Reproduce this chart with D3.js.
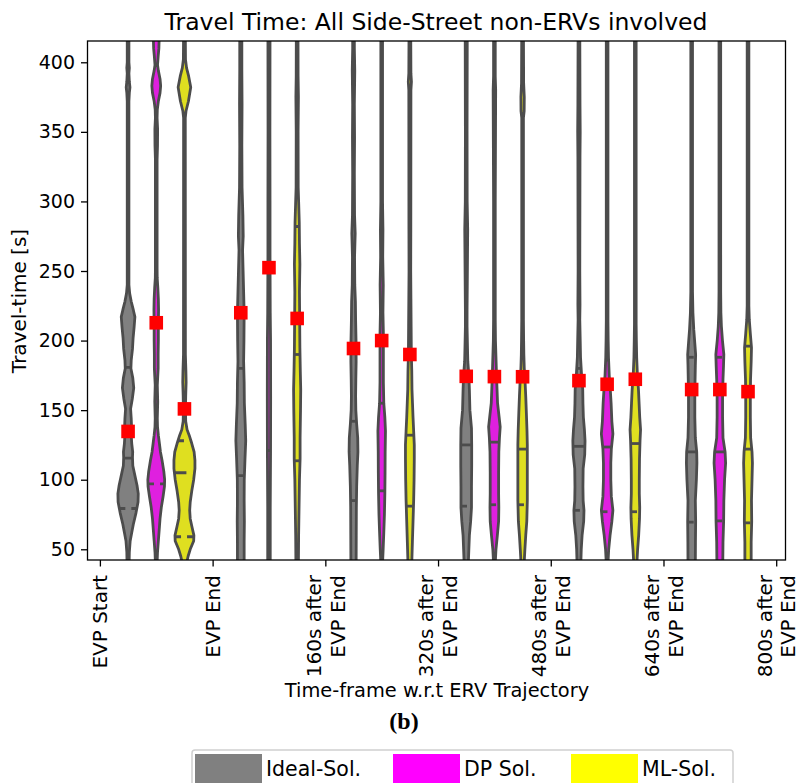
<!DOCTYPE html>
<html>
<head>
<meta charset="utf-8">
<script src="https://cdn.jsdelivr.net/npm/d3@7"></script>
<style>
body { margin: 0; background: #fff; }
svg text { font-family: 'DejaVu Sans', sans-serif; fill: #000; }
</style>
</head>
<body>
<svg></svg>
<script>
// tick labels of the time-frame axis (one tick every 4 slots)
var tickLabels = ["EVP Start", "EVP End", "160s after\nEVP End", "320s after\nEVP End",
    "480s after\nEVP End", "640s after\nEVP End", "800s after\nEVP End"];
var seriesNames = ["Ideal-Sol.", "DP Sol.", "ML-Sol."];
var legendColors = ["#808080", "#ff00ff", "#ffff00"];
var violinColors = ["#808080", "#df20df", "#dfdf20"];

// mean travel time (red squares)
var idealMeans = [134.7, 220, 194.3, 174.3, 171.2, 164.8];
var dpMeans    = [212.8, 252.4, 200, 174.1, 168.6, 164.8];
var mlMeans    = [150.9, 215.9, 190, 174, 172.2, 163.3];

// [q1, median, q3]
var idealQuartiles = [[79.3, 115.5, 180.8], [103, 180, 220], [85, 142, 195], [81, 125, 174], [78, 124, 180], [69.5, 120, 188]];
var dpQuartiles    = [[97, 140, 172], [121, 218, 395], [92, 155, 200], [82, 127, 174], [77, 123.5, 186], [70.4, 120, 188]];
var mlQuartiles    = [[59, 105, 128], [113.6, 190, 282], [81, 132, 190], [82, 122, 188], [77, 126, 189], [69, 122, 196]];

// kde profiles: [travel time, relative density]
var idealDensity = [
    [[40,0.1],[48,0.12],[56,0.2],[62,0.35],[68,0.5],[76,0.75],[84,0.95],[90,0.97],[96,0.85],[104,0.62],[110,0.45],[116,0.42],[120,0.44],[126,0.35],[132,0.3],[138,0.33],[144,0.3],[151,0.24],[158,0.4],[166,0.54],[173,0.45],[180,0.27],[186,0.3],[194,0.42],[202,0.48],[210,0.58],[217,0.65],[222,0.5],[228,0.3],[234,0.15],[240,0.08],[372,0.08],[378,0.12],[382,0.18],[386,0.12],[392,0.08],[396,0.12],[400,0.08],[425,0.08]],
    [[40,0.32],[55,0.32],[70,0.34],[85,0.32],[100,0.33],[115,0.4],[128,0.47],[140,0.42],[155,0.34],[170,0.32],[185,0.27],[200,0.3],[220,0.32],[235,0.27],[250,0.22],[265,0.17],[275,0.23],[290,0.2],[310,0.12],[340,0.1],[370,0.12],[395,0.1],[425,0.1]],
    [[40,0.25],[60,0.26],[80,0.27],[95,0.3],[110,0.36],[120,0.42],[130,0.4],[140,0.3],[150,0.22],[160,0.2],[172,0.22],[185,0.25],[200,0.24],[215,0.2],[228,0.18],[240,0.12],[260,0.1],[277,0.16],[290,0.1],[320,0.08],[346,0.1],[370,0.08],[394,0.12],[410,0.08],[425,0.08]],
    [[40,0.2],[50,0.25],[60,0.3],[70,0.42],[80,0.5],[95,0.5],[110,0.52],[125,0.52],[137,0.5],[150,0.35],[165,0.3],[175,0.25],[185,0.15],[195,0.12],[210,0.08],[222,0.08],[240,0.1],[280,0.14],[300,0.09],[350,0.08],[425,0.1]],
    [[40,0.18],[50,0.22],[60,0.3],[70,0.45],[78,0.48],[85,0.4],[95,0.38],[108,0.4],[118,0.55],[128,0.58],[136,0.52],[145,0.42],[155,0.38],[165,0.36],[175,0.25],[188,0.15],[200,0.12],[215,0.08],[226,0.1],[250,0.08],[332,0.1],[350,0.12],[370,0.1],[425,0.08]],
    [[40,0.35],[55,0.36],[70,0.38],[85,0.35],[100,0.45],[112,0.5],[120,0.48],[130,0.35],[145,0.3],[160,0.3],[170,0.32],[182,0.35],[190,0.38],[198,0.3],[208,0.2],[220,0.12],[235,0.08],[425,0.08]]
];
var dpDensity = [
    [[40,0.08],[48,0.12],[56,0.2],[64,0.28],[72,0.36],[80,0.48],[88,0.65],[95,0.78],[100,0.8],[106,0.72],[114,0.55],[120,0.4],[126,0.3],[132,0.2],[138,0.12],[144,0.1],[150,0.12],[156,0.14],[162,0.12],[168,0.1],[174,0.14],[180,0.18],[190,0.18],[200,0.2],[210,0.2],[222,0.22],[230,0.2],[238,0.15],[245,0.09],[252,0.08],[330,0.08],[340,0.12],[352,0.13],[360,0.08],[366,0.1],[372,0.2],[378,0.36],[383,0.42],[388,0.36],[394,0.2],[398,0.12],[404,0.18],[410,0.25],[418,0.28],[425,0.25]],
    [[40,0.12],[80,0.12],[120,0.15],[160,0.16],[200,0.15],[220,0.12],[260,0.1],[300,0.1],[350,0.09],[425,0.1]],
    [[40,0.08],[50,0.14],[62,0.2],[75,0.26],[90,0.3],[105,0.32],[120,0.33],[135,0.36],[145,0.3],[155,0.2],[170,0.16],[190,0.16],[205,0.16],[220,0.12],[240,0.15],[260,0.1],[280,0.12],[300,0.08],[425,0.08]],
    [[40,0.08],[50,0.15],[60,0.28],[70,0.4],[80,0.42],[90,0.4],[105,0.4],[120,0.42],[130,0.48],[138,0.55],[145,0.45],[155,0.3],[165,0.25],[175,0.2],[190,0.14],[200,0.1],[215,0.08],[300,0.08],[380,0.12],[390,0.08],[425,0.08]],
    [[40,0.08],[50,0.15],[60,0.28],[70,0.45],[78,0.55],[88,0.4],[100,0.35],[112,0.35],[122,0.4],[133,0.55],[142,0.45],[155,0.38],[165,0.3],[175,0.2],[188,0.13],[200,0.1],[214,0.08],[425,0.08]],
    [[40,0.28],[55,0.3],[70,0.36],[85,0.38],[100,0.45],[112,0.55],[120,0.5],[130,0.3],[145,0.26],[160,0.26],[172,0.3],[182,0.35],[190,0.38],[200,0.25],[210,0.15],[220,0.1],[235,0.08],[425,0.08]]
];
var mlDensity = [
    [[40,0.2],[45,0.35],[50,0.55],[56,0.88],[60,0.9],[66,0.72],[72,0.55],[78,0.5],[84,0.55],[92,0.7],[100,0.88],[108,1.0],[114,1.0],[120,0.92],[126,0.7],[132,0.45],[136,0.25],[142,0.12],[150,0.1],[160,0.12],[170,0.16],[178,0.14],[190,0.09],[360,0.08],[365,0.15],[372,0.38],[382,0.6],[390,0.4],[396,0.2],[402,0.1],[425,0.08]],
    [[40,0.12],[60,0.14],[80,0.18],[100,0.22],[115,0.28],[130,0.28],[150,0.32],[165,0.34],[178,0.3],[195,0.26],[215,0.24],[235,0.22],[255,0.26],[270,0.22],[285,0.2],[298,0.15],[310,0.1],[350,0.09],[375,0.12],[390,0.09],[425,0.08]],
    [[40,0.18],[55,0.24],[70,0.3],[85,0.36],[100,0.4],[115,0.42],[125,0.42],[135,0.36],[145,0.3],[155,0.25],[165,0.2],[178,0.18],[190,0.14],[210,0.12],[230,0.1],[250,0.08],[280,0.09],[380,0.1],[386,0.15],[392,0.1],[425,0.08]],
    [[40,0.15],[50,0.22],[60,0.3],[70,0.4],[85,0.45],[100,0.45],[115,0.45],[125,0.45],[135,0.42],[148,0.36],[160,0.3],[170,0.24],[180,0.16],[190,0.12],[200,0.1],[215,0.08],[360,0.08],[365,0.15],[375,0.16],[385,0.1],[425,0.08]],
    [[40,0.15],[50,0.22],[60,0.32],[72,0.4],[80,0.42],[90,0.38],[100,0.38],[115,0.4],[128,0.45],[136,0.5],[145,0.42],[155,0.36],[165,0.3],[175,0.2],[188,0.13],[200,0.1],[212,0.08],[425,0.08]],
    [[40,0.3],[55,0.3],[70,0.35],[85,0.33],[100,0.38],[112,0.42],[120,0.38],[130,0.25],[145,0.22],[160,0.22],[172,0.24],[185,0.3],[195,0.33],[205,0.22],[215,0.12],[225,0.08],[425,0.08]]
];

var svgWidth = 796, svgHeight = 783;
var plotLeft = 87.5, plotRight = 785.5, plotTop = 41, plotBottom = 560;
var edgeColor = "#4c4c4c", lineW = 2.8;

var svg = d3.select("svg")
    .attr("width", svgWidth)
    .attr("height", svgHeight);

// slots: tick at 0, violins at 1,2,3, tick at 4, ...
var x = d3.scaleLinear().domain([-0.44, 24.33]).range([plotLeft, plotRight]);
var y = d3.scaleLinear().domain([42.3, 415.3]).range([plotBottom, plotTop]);
var w = d3.scaleLinear().domain([0, 1]).range([0, 10.5]);

svg.append("defs").append("clipPath").attr("id", "plotclip")
    .append("rect")
    .attr("x", plotLeft).attr("y", plotTop)
    .attr("width", plotRight - plotLeft).attr("height", plotBottom - plotTop);

var series = [
    { density: idealDensity, quart: idealQuartiles, means: idealMeans },
    { density: dpDensity, quart: dpQuartiles, means: dpMeans },
    { density: mlDensity, quart: mlQuartiles, means: mlMeans }
];

var violins = [];
series.forEach(function (s, si) {
    s.density.forEach(function (prof, g) {
        violins.push({ slot: 4 * g + si + 1, prof: prof, color: violinColors[si],
            quart: s.quart[g], mean: s.means[g] });
    });
});

function densityAt(prof, v) {
    for (var i = 1; i < prof.length; i++) {
        if (v <= prof[i][0]) {
            var t = (v - prof[i - 1][0]) / (prof[i][0] - prof[i - 1][0]);
            return prof[i - 1][1] + t * (prof[i][1] - prof[i - 1][1]);
        }
    }
    return prof[prof.length - 1][1];
}

var plot = svg.append("g").attr("clip-path", "url(#plotclip)");

var area = d3.area()
    .y(function (d) { return y(d[0]); })
    .curve(d3.curveLinear);

plot.selectAll("path.violin")
    .data(violins)
    .enter()
    .append("path")
    .attr("class", "violin")
    .attr("d", function (v) {
        return area
            .x0(function (d) { return x(v.slot) - w(d[1]); })
            .x1(function (d) { return x(v.slot) + w(d[1]); })(v.prof);
    })
    .style("fill", function (v) { return v.color; })
    .style("stroke", edgeColor)
    .style("stroke-width", lineW)
    .style("stroke-linejoin", "round");

// quartile lines
violins.forEach(function (v) {
    v.quart.forEach(function (q, qi) {
        var hw = w(densityAt(v.prof, q));
        plot.append("line")
            .attr("x1", x(v.slot) - hw)
            .attr("x2", x(v.slot) + hw)
            .attr("y1", y(q))
            .attr("y2", y(q))
            .style("stroke", edgeColor)
            .style("stroke-width", lineW)
            .style("stroke-dasharray", qi === 1 ? "12,12" : "6,6");
    });
});

// means
plot.selectAll("rect.mean")
    .data(violins)
    .enter()
    .append("rect")
    .attr("class", "mean")
    .attr("x", function (v) { return x(v.slot) - 6.8; })
    .attr("y", function (v) { return y(v.mean) - 6.8; })
    .attr("width", 13.6)
    .attr("height", 13.6)
    .style("fill", "#ff0000");

// axes
var yAxis = svg.append("g")
    .attr("transform", "translate(" + plotLeft + ",0)")
    .call(d3.axisLeft(y).tickValues([50, 100, 150, 200, 250, 300, 350, 400])
        .tickSize(6.5).tickPadding(6).tickFormat(d3.format("d")));
yAxis.select(".domain").remove();
yAxis.selectAll("line").style("stroke", "#000").style("stroke-width", 1.3);
yAxis.selectAll("text").style("font-size", "19px").style("font-family", "DejaVu Sans");

var tickSlots = tickLabels.map(function (d, i) { return i * 4; });
var xAxis = svg.append("g")
    .attr("transform", "translate(0," + plotBottom + ")")
    .call(d3.axisBottom(x).tickValues(tickSlots).tickSize(6.5).tickFormat(""));
xAxis.select(".domain").remove();
xAxis.selectAll("line").style("stroke", "#000").style("stroke-width", 1.3);

tickLabels.forEach(function (lab, i) {
    var lines = lab.split("\n");
    var t = svg.append("text")
        .attr("transform", "translate(" + x(tickSlots[i]) + ",575)rotate(-90)")
        .attr("text-anchor", "end")
        .style("font-size", "20px");
    lines.forEach(function (ln, k) {
        t.append("tspan")
            .attr("x", 0)
            .attr("y", 7.3 + (k - (lines.length - 1) / 2) * 24)
            .text(ln);
    });
});

// frame
svg.append("rect")
    .attr("x", plotLeft).attr("y", plotTop)
    .attr("width", plotRight - plotLeft).attr("height", plotBottom - plotTop)
    .style("fill", "none").style("stroke", "#000").style("stroke-width", 1.3);

// Title
svg.append("text")
    .attr("x", 436).attr("y", 30)
    .attr("text-anchor", "middle")
    .style("font-size", "23.5px")
    .text("Travel Time: All Side-Street non-ERVs involved");

// Y label
svg.append("text")
    .attr("text-anchor", "middle")
    .attr("transform", "translate(26,301)rotate(-90)")
    .style("font-size", "20px")
    .text("Travel-time [s]");

// X label
svg.append("text")
    .attr("x", 437).attr("y", 697)
    .attr("text-anchor", "middle")
    .style("font-size", "19.4px")
    .text("Time-frame w.r.t ERV Trajectory");

svg.append("text")
    .attr("x", 404).attr("y", 729)
    .attr("text-anchor", "middle")
    .style("font-family", "Liberation Serif")
    .style("font-weight", "bold")
    .style("font-size", "24px")
    .text("(b)");

// legend
var legend = svg.append("g");
legend.append("rect")
    .attr("x", 192).attr("y", 750).attr("width", 541).attr("height", 45)
    .attr("rx", 3)
    .style("fill", "#fff").style("stroke", "#d0d0d0").style("stroke-width", 1.5);
var legX = [195, 393, 571];
seriesNames.forEach(function (name, i) {
    legend.append("rect")
        .attr("x", legX[i]).attr("y", 754)
        .attr("width", 67).attr("height", 30)
        .style("fill", legendColors[i]);
    legend.append("text")
        .attr("x", legX[i] + 71).attr("y", 776)
        .style("font-size", "20.5px")
        .text(name);
});
</script>
</body>
</html>
